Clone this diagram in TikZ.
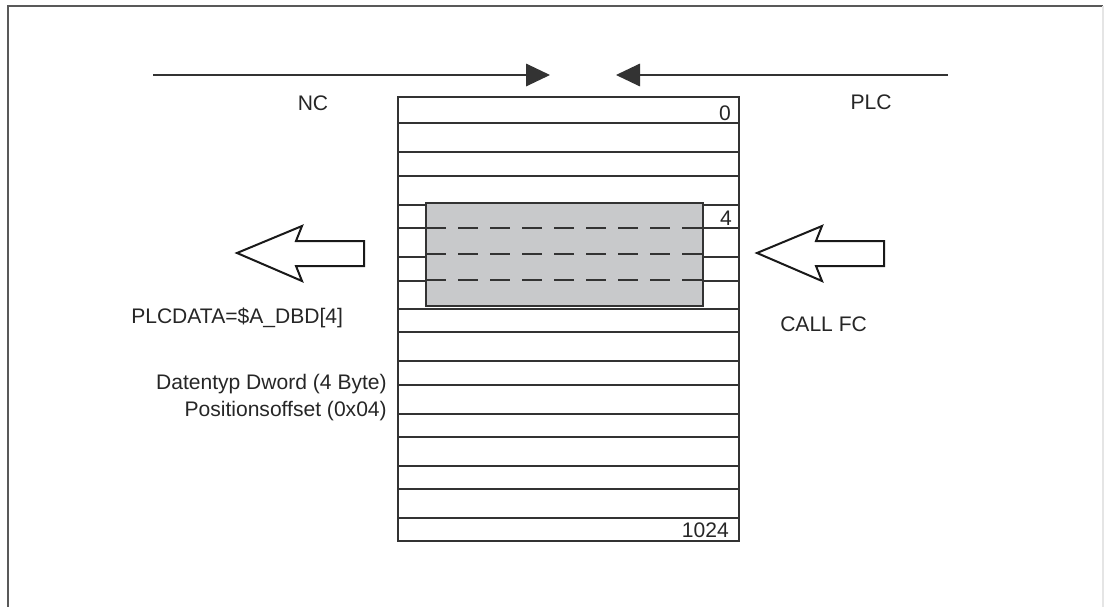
\documentclass[tikz,border=0pt]{standalone}
\usepackage{fontspec}
\setmainfont{Liberation Sans}
\usetikzlibrary{arrows.meta,positioning}
\definecolor{linex}{HTML}{333333}
\definecolor{fillx}{HTML}{C8C9CB}
\tikzset{
  rowline/.style={linex,line width=0.9pt},
  dashrow/.style={linex,line width=0.9pt,dash pattern=on 15pt off 9pt},
  lbl/.style={font=\fontsize{15.8}{18}\selectfont,inner sep=0pt,text=black!85},
  ptr/.style={-{Triangle[length=18pt,width=17pt]},line width=0.9pt,linex},
  bigarr/.style={draw=black!90,line width=1.5pt,fill=white,line join=miter},
  frame/.style={gray!70!black,line width=1.2pt}
}

\begin{document}
\begin{tikzpicture}[x=0.75pt,y=-0.75pt]
\useasboundingbox (0,0) rectangle (1104,607);
\draw[frame] (8,610) -- (8,6) -- (1103,6);
\draw[gray!20,line width=0.8pt] (1103,6) -- (1103,610);

% direction arrows NC / PLC
\coordinate (ncstart) at (153,75);
\coordinate (ncend) at (550,75);
\coordinate (plcstart) at (948,75);
\coordinate (plcend) at (616,75);
\draw[ptr] (ncstart) -- (ncend);
\draw[ptr] (plcstart) -- (plcend);
\node[lbl] (nc) at (313,103) {NC};
\node[lbl] (plc) at (871,102) {PLC};

% memory table
\foreach \y in {123,152,176,205,228,257,281,309,332,361,385,414,437,466,489,518}
  \draw[rowline] (398,\y) -- (739,\y);
\draw[rowline] (398,97) rectangle (739,541);
\node[lbl,anchor=east] (first) at (731,113) {0};
\node[lbl,anchor=east] (last) at (729,530) {1024};

% selected data word
\draw[rowline,fill=fillx] (426,203) rectangle (703,306);
\foreach \y in {228,254,280}
  \draw[dashrow] (426,\y) -- (703,\y);
\node[lbl,anchor=east] (offs) at (732,218) {4};

% block arrows
\draw[bigarr,shift={(237,253)}] (0,0) -- (65,-27) -- (59,-12) -- (127,-12)
  -- (127,13) -- (59,13) -- (65,28) -- cycle;
\draw[bigarr,shift={(757,253)}] (0,0) -- (65,-27) -- (59,-12) -- (127,-12)
  -- (127,13) -- (59,13) -- (65,28) -- cycle;
\node[lbl,anchor=west] (plcdata) at (131,318) {PLCDATA=\$A\_DBD[4]};
\node[lbl,anchor=west] (callfc) at (780,324) {CALL FC};

% side notes
\node[lbl,anchor=east] (dtype) at (387,384) {Datentyp Dword (4 Byte)};
\node[lbl,anchor=east] (posoff) at (387,411) {Positionsoffset (0x04)};
\end{tikzpicture}
\end{document}
